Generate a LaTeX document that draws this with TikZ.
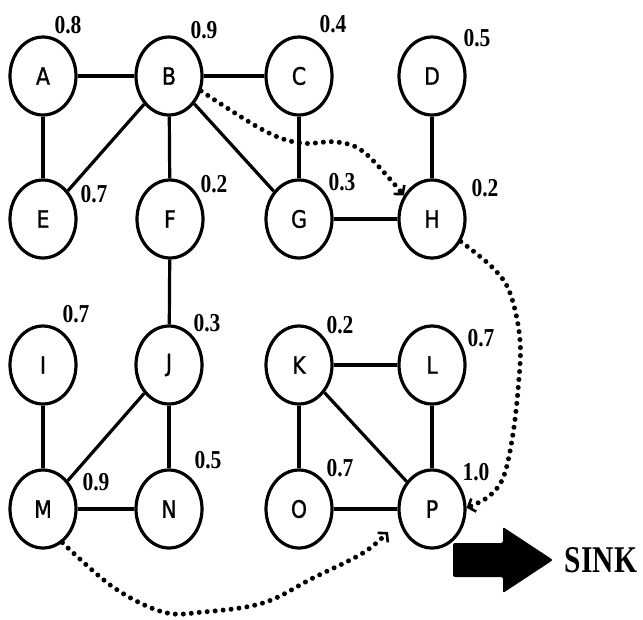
\documentclass[tikz,border=0pt]{standalone}
\usepackage{graphicx}
\usepackage{fontspec}
\setmainfont{Liberation Serif}
\newfontfamily\nodefont[FakeBold=1.2]{DejaVu Sans}
\usetikzlibrary{arrows.meta,shapes.geometric}
\newcommand\vstr[1]{\scalebox{1}[1.17]{#1}}
\newcommand\wstr[1]{\scalebox{1}[1.2]{#1}}
\begin{document}
\begin{tikzpicture}[x=1pt,y=-1pt,
  vert/.style={ellipse,draw,line width=3.2pt,minimum width=66pt,minimum height=78pt,inner sep=0pt,font=\nodefont\fontsize{20.5}{21}\selectfont},
  edge/.style={line width=3.2pt},
  wt/.style={font=\bfseries\fontsize{21.5}{22}\selectfont,inner sep=0pt},
  route/.style={line width=5pt,line cap=round,dash pattern=on 0pt off 8pt,
    -{Straight Barb[length=6pt,width=14pt,line width=2.6pt]}}]
\useasboundingbox (0,0) rectangle (643,619);
% vertices
\node[vert] (A) at (43,76) {\vstr{A}};
\node[vert] (B) at (169,76) {\vstr{B}};
\node[vert] (C) at (299,76) {\vstr{C}};
\node[vert] (D) at (432,76) {\vstr{D}};
\node[vert] (E) at (43,219) {\vstr{E}};
\node[vert] (F) at (170,219) {\vstr{F}};
\node[vert] (G) at (299,219) {\vstr{G}};
\node[vert] (H) at (432,219) {\vstr{H}};
\node[vert] (I) at (43,365) {\vstr{I}};
\node[vert] (J) at (169,365) {\vstr{J}};
\node[vert] (K) at (299,365) {\vstr{K}};
\node[vert] (L) at (432,365) {\vstr{L}};
\node[vert] (M) at (43,509) {\vstr{M}};
\node[vert] (N) at (169,509) {\vstr{N}};
\node[vert] (O) at (299,509) {\vstr{O}};
\node[vert] (P) at (432,509) {\vstr{P}};
% weights
\node[wt] (wA) at (68,25) {\wstr{0.8}};
\node[wt] (wB) at (204,30) {\wstr{0.9}};
\node[wt] (wC) at (333,24) {\wstr{0.4}};
\node[wt] (wD) at (477,38) {\wstr{0.5}};
\node[wt] (wE) at (94,194) {\wstr{0.7}};
\node[wt] (wF) at (214,184) {\wstr{0.2}};
\node[wt] (wG) at (342,182) {\wstr{0.3}};
\node[wt] (wH) at (485,188) {\wstr{0.2}};
\node[wt] (wI) at (76,314) {\wstr{0.7}};
\node[wt] (wJ) at (207,323) {\wstr{0.3}};
\node[wt] (wK) at (340,325) {\wstr{0.2}};
\node[wt] (wL) at (481,338) {\wstr{0.7}};
\node[wt] (wM) at (96,482) {\wstr{0.9}};
\node[wt] (wN) at (208,460) {\wstr{0.5}};
\node[wt] (wO) at (340,468) {\wstr{0.7}};
\node[wt] (wP) at (476,472) {\wstr{1.0}};
% edges
\draw[edge] (A) -- (B);
\draw[edge] (B) -- (C);
\draw[edge] (A) -- (E);
\draw[edge] (B) -- (E);
\draw[edge] (B) -- (F);
\draw[edge] (B) -- (G);
\draw[edge] (C) -- (G);
\draw[edge] (G) -- (H);
\draw[edge] (D) -- (H);
\draw[edge] (F) -- (J);
\draw[edge] (I) -- (M);
\draw[edge] (J) -- (M);
\draw[edge] (J) -- (N);
\draw[edge] (M) -- (N);
\draw[edge] (K) -- (L);
\draw[edge] (K) -- (O);
\draw[edge] (K) -- (P);
\draw[edge] (L) -- (P);
\draw[edge] (O) -- (P);
% routes
\draw[route] plot[smooth,tension=0.6] coordinates {(B.-25) (263,130) (300,143) (337,142) (365,153) (H.140)};
\draw[route] plot[smooth,tension=0.6] coordinates {(H.-38) (493,268) (510,293) (520,340) (518,390) (512,440) (503,478) (488,497) (P.2)};
\coordinate (mpEnd) at (388,532);
\draw[route] plot[smooth,tension=0.6] coordinates {(M.-60) (113,587) (163,612) (203,612) (263,603) (313,578) (363,553) (mpEnd)};
% sink arrow
\fill[rounded corners=2pt] (453,543) -- (503,543) -- (503,527) -- (553,560) -- (503,593) -- (503,577) -- (453,577) -- cycle;
\node[font=\bfseries\fontsize{29.5}{30}\selectfont,inner sep=0pt] (sink) at (601,560) {\scalebox{1}[1.28]{SINK}};
\end{tikzpicture}
\end{document}
